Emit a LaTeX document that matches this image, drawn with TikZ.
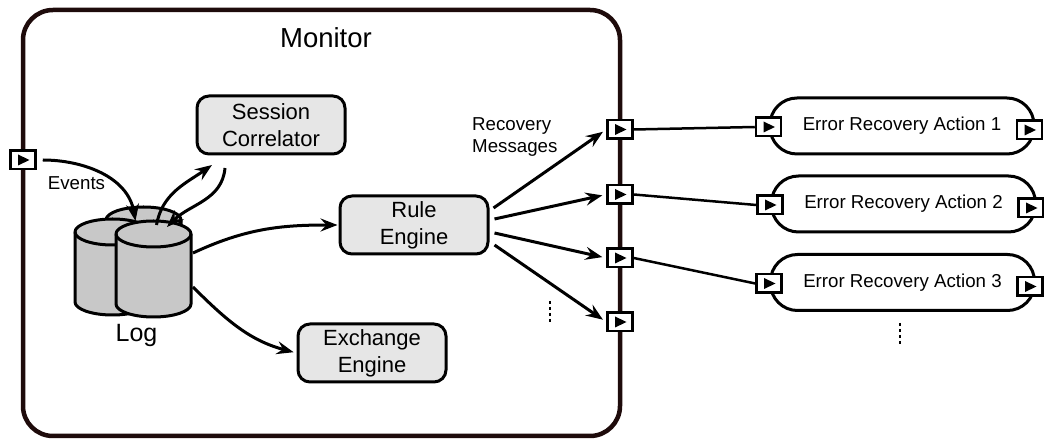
\documentclass[tikz,border=0pt]{standalone}
\usepackage{fontspec}
\setmainfont{Liberation Sans}
\usepackage{xcolor}
\definecolor{cFrame}{HTML}{1E0B0B}
\definecolor{cBox}{HTML}{E6E6E6}
\definecolor{cDrum}{HTML}{C8C8C8}
\usetikzlibrary{positioning,arrows.meta}
\newcommand\sizeBox{\fontsize{22}{27}\selectfont}
\newcommand\sizeLabel{\fontsize{18.7}{22}\selectfont}
\newcommand\sizeTitle{\fontsize{27.5}{30}\selectfont}
\newcommand\sizeLog{\fontsize{25}{28}\selectfont}
\tikzset{
  frame-box/.style={draw=cFrame,line width=4.5pt,rounded corners=30pt,
    minimum width=597pt,minimum height=426pt},
  node-box/.style={draw=black,line width=3pt,fill=cBox,rounded corners=12pt,
    minimum width=148pt,minimum height=58pt,align=center,font=\sizeBox},
  node-action/.style={draw=black,line width=3pt,rounded corners=27pt,
    minimum width=264pt,minimum height=56pt,font=\sizeLabel},
  node-port/.style={draw=black,line width=2.5pt,fill=white,inner sep=0pt,
    minimum width=25pt,minimum height=18.5pt,
    path picture={\fill[black] ([xshift=-5pt,yshift=5.5pt]path picture bounding box.center)
      -- ([xshift=6.5pt]path picture bounding box.center)
      -- ([xshift=-5pt,yshift=-5.5pt]path picture bounding box.center) -- cycle;}},
  node-label/.style={inner sep=0pt,align=left,font=\sizeLabel},
  arrow/.style={-{Stealth[length=17pt,width=13pt,inset=6pt]},line width=3pt},
  link/.style={line width=2.5pt},
  vdots-line/.style={line width=2.5pt,dash pattern=on 3pt off 3pt},
  % one log drum, origin in the middle of its body
  drum/.pic={
    \path[draw=black,line width=3pt,fill=cDrum,line join=round]
      (-37.5pt,35pt) -- (-37.5pt,-35pt)
      arc[start angle=180,end angle=360,x radius=37.5pt,y radius=13pt]
      -- (37.5pt,35pt)
      arc[start angle=0,end angle=180,x radius=37.5pt,y radius=13pt] -- cycle;
    \draw[line width=3pt] (-37.5pt,35pt)
      arc[start angle=180,end angle=360,x radius=37.5pt,y radius=13pt];
    \coordinate (-top) at (0pt,35pt);
    \coordinate (-east) at (37.5pt,0pt);
  },
}

\begin{document}
\begin{tikzpicture}[x=1pt,y=1pt]
  \useasboundingbox (0,0) rectangle (1044,444);

  % monitor frame and its ports
  \node[frame-box] (monitor) at (321.5,221) {};
  \node[font=\sizeTitle] (title) at (326,406) {Monitor};
  \node[node-port] (evin) at (23,284) {};
  \node[node-port] (out1) at (620,314.5) {};
  \node[node-port] (out2) at (620,249.5) {};
  \node[node-port] (out3) at (620,186) {};
  \node[node-port] (out4) at (620,122) {};

  % inner components
  \node[node-box] (sess) at (271,319) {Session\\Correlator};
  \node[node-box] (rule) at (414,219) {Rule\\Engine};
  \node[node-box] (exch) at (372,91) {Exchange\\Engine};

  % the log: three drums
  \pic (logB) at (143.5,189) {drum};
  \pic (logA) at (112.5,177) {drum};
  \pic (logC) at (153.5,175) {drum};
  \node[font=\sizeLog] (logtxt) at (136.5,108.5) {Log};

  \draw[arrow,shorten <=6pt] (evin.east) to[out=0,in=100]
    ([xshift=-8pt,yshift=-1pt]logB-top);
  \node[node-label] (evtxt) at (76.5,261) {Events};
  \draw[arrow] ([xshift=3pt,yshift=9pt]logC-top) to[out=80,in=215]
    ([xshift=-59pt,yshift=-9.5pt]sess.south);
  \draw[arrow] ([xshift=-46pt,yshift=-12.5pt]sess.south) to[out=-95,in=45]
    ([xshift=13.5pt,yshift=7pt]logC-top);
  \draw[arrow,shorten >=1pt] ([xshift=2pt,yshift=16pt]logC-east) to[out=25,in=180] (rule.west);
  \draw[arrow,shorten >=3pt] ([xshift=2pt,yshift=-18pt]logC-east) to[out=-45,in=165] (exch.west);

  % recovery messages
  \draw[arrow,shorten >=4pt] ([xshift=4pt,yshift=17pt]rule.east) -- (out1.west);
  \draw[arrow,shorten >=4pt] ([xshift=5pt,yshift=6pt]rule.east) -- (out2.west);
  \draw[arrow,shorten >=4pt] ([xshift=5pt,yshift=-8pt]rule.east) -- (out3.west);
  \draw[arrow,shorten >=4pt] ([xshift=5pt,yshift=-20pt]rule.east) -- (out4.west);
  \node[node-label,anchor=west] (msgtxt) at (472,307) {Recovery\\Messages};
  \draw[vdots-line] (550,143) -- (550,121);

  % error recovery actions
  \node[node-action] (act1) at (902,318) {Error Recovery Action 1};
  \node[node-action] (act2) at (903.5,240) {Error Recovery Action 2};
  \node[node-action] (act3) at (902.5,161.5) {Error Recovery Action 3};
  \foreach \i in {1,2,3} {
    \node[node-port] (in\i) at ([yshift=-1pt]act\i.west) {};
    \node[node-port] (end\i) at ([xshift=-6pt,yshift=-4pt]act\i.east) {};
    \draw[link] (out\i.east) -- (in\i.west);
  }
  \draw[vdots-line] (900,121) -- (900,99);
\end{tikzpicture}
\end{document}
